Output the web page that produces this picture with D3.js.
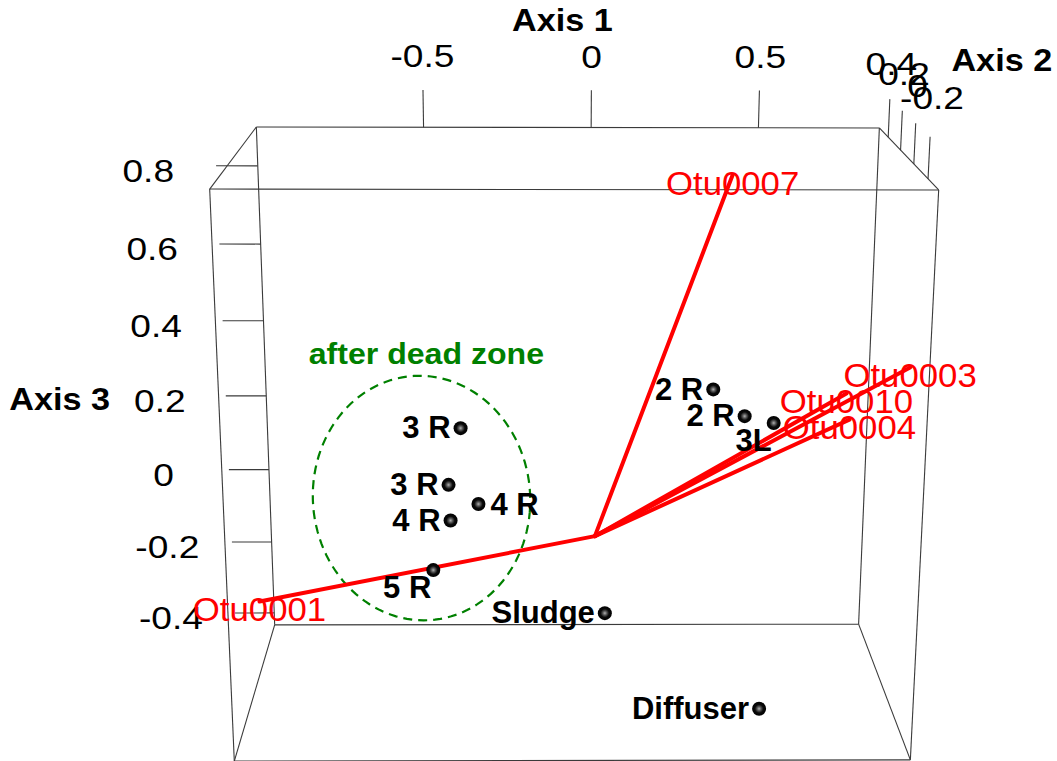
<!DOCTYPE html>
<html>
<head>
<meta charset="utf-8">
<script src="https://cdn.jsdelivr.net/npm/d3@7"></script>
<style>
  body { margin: 0; background: #fff; }
  text { font-family: "Liberation Sans", Arial, sans-serif; }
</style>
</head>
<body>
<svg id="chart" width="1057" height="761"></svg>
<script>
// ---- Sample scores on the three ordination axes ----
const sampleNames  = ["3 R", "3 R", "4 R", "4 R", "5 R", "Sludge", "Diffuser", "2 R", "2 R", "3L"];
const sampleAxis1  = [-0.383, -0.424, -0.331, -0.415, -0.462, 0.034, 0.458, 0.348, 0.430, 0.501];
const sampleAxis2  = [0.1, 0.2, 0.0, 0.1, 0.0, 0.1, -0.2, 0.2, 0.1, 0.0];
const sampleAxis3  = [0.241, 0.067, 0.081, 0.007, -0.086, -0.234, -0.364, 0.311, 0.271, 0.282];
const sampleLabelSide = ["left", "left", "right", "left", "below", "left", "left", "left", "left", "below"];

// ---- OTU vectors, drawn from the origin ----
const otuNames = ["Otu0001", "Otu0007", "Otu0003", "Otu0010", "Otu0004"];
const otuAxis1 = [-0.962, 0.369, 0.858, 0.686, 0.697];
const otuAxis2 = [0.0, 0.0, -0.1, -0.1, -0.1];
const otuAxis3 = [-0.166, 0.872, 0.443, 0.381, 0.318];

// ---- Axis ticks ----
const axis1Ticks = [-0.5, 0, 0.5];
const axis2Ticks = [0.4, 0.2, 0, -0.2];
const axis3Ticks = [0.8, 0.6, 0.4, 0.2, 0, -0.2, -0.4];

// ---- Bounding box extent on each axis (axis 2 runs back -> front) ----
const axis1Range = [-0.998, 0.862];
const axis2Range = [0.552, -0.34];
const axis3Range = [-0.434, 0.898];

// ---- "after dead zone" outline in the axis1/axis3 plane ----
const zoneCentre = [-0.492, 0.0, 0.091];   // axis1, axis2, axis3
const zoneRadii  = [0.308, 0.306];         // along axis1, axis3
const zoneTiltDeg = -6;

// ---- Camera: where the eight corners of the unit box land on screen ----
// [u (axis1), v (axis3), s (axis2 depth)] -> [x, y]
const boxCorners = [
  [[0, 0, 0], [275, 625]], [[1, 0, 0], [858, 624]],
  [[0, 1, 0], [256, 127]], [[1, 1, 0], [880, 128]],
  [[0, 0, 1], [234, 761]], [[1, 0, 1], [911, 760]],
  [[0, 1, 1], [210, 189]], [[1, 1, 1], [938, 190]]
];

// Fit a 3x4 projective camera (DLT, least squares) to the corner pairs
function fitCamera(pairs) {
  const cx = 528, cy = 380, sc = 500;
  const A = [], b = [];
  pairs.forEach(([[X, Y, Z], [x, y]]) => {
    const xn = (x - cx) / sc, yn = (y - cy) / sc;
    A.push([X, Y, Z, 1, 0, 0, 0, 0, -xn * X, -xn * Y, -xn * Z]); b.push(xn);
    A.push([0, 0, 0, 0, X, Y, Z, 1, -yn * X, -yn * Y, -yn * Z]); b.push(yn);
  });
  const n = 11;
  const M = d3.range(n).map(() => new Array(n + 1).fill(0));
  for (let r = 0; r < A.length; r++) {
    for (let i = 0; i < n; i++) {
      for (let j = 0; j < n; j++) M[i][j] += A[r][i] * A[r][j];
      M[i][n] += A[r][i] * b[r];
    }
  }
  for (let i = 0; i < n; i++) {
    let p = i;
    for (let k = i + 1; k < n; k++) if (Math.abs(M[k][i]) > Math.abs(M[p][i])) p = k;
    [M[i], M[p]] = [M[p], M[i]];
    for (let k = 0; k < n; k++) {
      if (k === i) continue;
      const f = M[k][i] / M[i][i];
      for (let j = i; j <= n; j++) M[k][j] -= f * M[i][j];
    }
  }
  const P = M.map((row, i) => row[n] / row[i]);
  return ([X, Y, Z]) => {
    const w = P[8] * X + P[9] * Y + P[10] * Z + 1;
    return [cx + sc * (P[0] * X + P[1] * Y + P[2] * Z + P[3]) / w,
            cy + sc * (P[4] * X + P[5] * Y + P[6] * Z + P[7]) / w];
  };
}
const camera = fitCamera(boxCorners);

// Data -> unit box
const uScale = d3.scaleLinear().domain(axis1Range).range([0, 1]);
const vScale = d3.scaleLinear().domain(axis3Range).range([0, 1]);
const sScale = d3.scaleLinear().domain(axis2Range).range([0, 1]);
const proj = (a1, a2, a3) => camera([uScale(a1), vScale(a3), sScale(a2)]);

// Tick text with a plain hyphen for negatives
const tickText = t => String(t);

const svg = d3.select("#chart");
svg.append("rect").attr("width", 1057).attr("height", 761).attr("fill", "#fff");

// Text helper: (x, yCap) is the anchor point with the cap height centred on it
function label(g, x, yCap, str, o) {
  const fs = o.size;
  return g.append("text")
    .attr("transform", `translate(${x},${yCap + 0.358 * fs}) scale(${o.sx || 1},1)`)
    .attr("text-anchor", o.anchor || "middle")
    .attr("font-size", fs)
    .attr("font-weight", o.bold ? "bold" : "normal")
    .attr("fill", o.color || "#000")
    .text(str);
}

const line = d3.line();

// ---- Bounding box ----
const gBox = svg.append("g").attr("stroke", "#3a3a3a").attr("stroke-width", 1.1).attr("fill", "none");
const cube = [[0,0,0],[1,0,0],[1,1,0],[0,1,0],[0,0,1],[1,0,1],[1,1,1],[0,1,1]];
const edges = [[0,1],[1,2],[2,3],[3,0],[4,5],[5,6],[6,7],[7,4],[0,4],[1,5],[2,6],[3,7]];
edges.forEach(([a, b]) => gBox.append("path").attr("d", line([camera(cube[a]), camera(cube[b])])));

// ---- Axis 1: along the back top edge ----
const gAxes = svg.append("g");
const tickStroke = "#3a3a3a";
const tickFont = { size: 32, sx: 1.16 };
axis1Ticks.forEach(t => {
  const u = uScale(t);
  gAxes.append("path").attr("stroke", tickStroke).attr("stroke-width", 1.1)
    .attr("d", line([camera([u, 1, 0]), camera([u, 1.07, 0])]));
  const p = camera([u, 1.133, 0]);
  label(gAxes, p[0], p[1], tickText(t), tickFont);
});
{
  const p = camera([0.49, 1.2, 0]);
  label(gAxes, p[0], p[1], "Axis 1", { size: 32, bold: true, sx: 1.07 });
}

// ---- Axis 2: along the top right depth edge ----
axis2Ticks.forEach(t => {
  const s = sScale(t);
  gAxes.append("path").attr("stroke", tickStroke).attr("stroke-width", 1.1)
    .attr("d", line([camera([1, 1, s]), camera([1, 1.07, s])]));
  const p = camera([1, 1.135, s]);
  label(gAxes, p[0], p[1], tickText(t), tickFont);
});
{
  const p = camera([1.134, 1.168, 0.5]);
  label(gAxes, p[0], p[1], "Axis 2", { size: 32, bold: true, sx: 1.07 });
}

// ---- Axis 3: along the back left edge ----
axis3Ticks.forEach(t => {
  const v = vScale(t);
  gAxes.append("path").attr("stroke", tickStroke).attr("stroke-width", 1.1)
    .attr("d", line([camera([0, v, 0]), camera([-0.067, v, 0])]));
  const p = camera([-0.176, v, 0]);
  label(gAxes, p[0], p[1] + 4.5, tickText(t), tickFont);
});
{
  const p = camera([-0.342, 0.47, 0]);
  label(gAxes, p[0], p[1], "Axis 3", { size: 32, bold: true, sx: 1.07 });
}

// ---- "after dead zone" outline ----
const tilt = zoneTiltDeg * Math.PI / 180;
const zonePts = d3.range(0, 361, 3).map(deg => {
  const th = deg * Math.PI / 180;
  const dx = zoneRadii[0] * Math.cos(th), dz = zoneRadii[1] * Math.sin(th);
  return proj(zoneCentre[0] + dx * Math.cos(tilt) - dz * Math.sin(tilt),
              zoneCentre[1],
              zoneCentre[2] + dx * Math.sin(tilt) + dz * Math.cos(tilt));
});
svg.append("path").attr("d", line(zonePts))
  .attr("fill", "none").attr("stroke", "#008000").attr("stroke-width", 2.2)
  .attr("stroke-dasharray", "9,6");
{
  const p = proj(zoneCentre[0] + 0.02, zoneCentre[1], zoneCentre[2] + zoneRadii[1] + 0.055);
  label(svg, p[0], p[1], "after dead zone", { size: 30, bold: true, sx: 1.07, color: "#008000" });
}

// ---- OTU vectors ----
const origin = proj(0, 0, 0);
const gOtu = svg.append("g");
otuNames.forEach((name, i) => {
  const tip = proj(otuAxis1[i], otuAxis2[i], otuAxis3[i]);
  gOtu.append("path").attr("d", line([origin, tip]))
    .attr("stroke", "#ff0000").attr("stroke-width", 4).attr("stroke-linecap", "round").attr("fill", "none");
});
otuNames.forEach((name, i) => {
  const tip = proj(otuAxis1[i], otuAxis2[i], otuAxis3[i]);
  label(gOtu, tip[0], tip[1] + 8, name, { size: 32.5, sx: 1.07, color: "#ff0000" });
});

// ---- Samples ----
const defs = svg.append("defs");
const grad = defs.append("radialGradient").attr("id", "ball");
grad.append("stop").attr("offset", "0%").attr("stop-color", "#b0b0b0");
grad.append("stop").attr("offset", "30%").attr("stop-color", "#555");
grad.append("stop").attr("offset", "60%").attr("stop-color", "#0a0a0a");
grad.append("stop").attr("offset", "100%").attr("stop-color", "#000");

const gPts = svg.append("g");
sampleNames.forEach((name, i) => {
  const p = proj(sampleAxis1[i], sampleAxis2[i], sampleAxis3[i]);
  gPts.append("circle").attr("cx", p[0]).attr("cy", p[1]).attr("r", 7).attr("fill", "url(#ball)");
  const side = sampleLabelSide[i];
  const font = { size: 31, bold: true };
  if (side === "left") label(gPts, p[0] - 10, p[1] - 1, name, { ...font, anchor: "end" });
  else if (side === "right") label(gPts, p[0] + 12, p[1], name, { ...font, anchor: "start" });
  else label(gPts, p[0] - 2, p[1] + 16.5, name, { ...font, anchor: "end" });
});
</script>
</body>
</html>
